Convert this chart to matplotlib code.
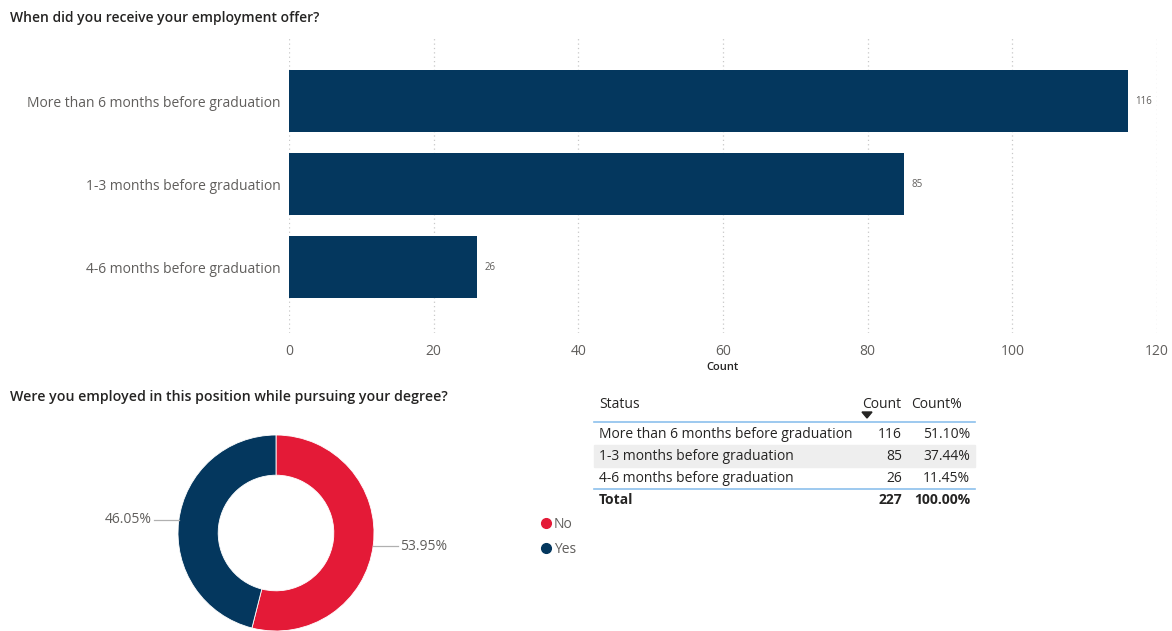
import numpy as np
import matplotlib.pyplot as plt
from matplotlib.lines import Line2D

# data
statuses = ["More than 6 months before graduation",
            "1-3 months before graduation",
            "4-6 months before graduation"]
counts = [116, 85, 26]
x_ticks = [0, 20, 40, 60, 80, 100, 120]

employed_labels = ["No", "Yes"]
employed_pct = [53.95, 46.05]

NAVY = "#04375e"
RED = "#e41a37"
GREY = "#605e5c"
DARK = "#252423"

W, H = 1172, 631
plt.rcParams['font.family'] = ['Open Sans', 'DejaVu Sans']

fig = plt.figure(figsize=(W / 100, H / 100), dpi=100)


def fx(px):
    return px / W


def fy(py):
    return 1 - py / H


# ---- bar chart ----
ax = fig.add_axes([fx(289), fy(333), fx(1157) - fx(289), fy(37) - fy(333)])
y = np.arange(len(statuses))
ax.barh(y, counts, height=0.75, color=NAVY)
ax.set_xlim(0, 120)
ax.set_ylim(2.79, -0.77)
ax.set_xticks(x_ticks)
ax.set_yticks(y)
ax.set_yticklabels(statuses)
ax.tick_params(axis='y', length=0, pad=6, labelsize=10, labelcolor=GREY)
ax.tick_params(axis='x', length=0, pad=8, labelsize=10, labelcolor=GREY)
ax.grid(axis='x', linestyle=(0, (1, 2.5)), color='#c8c8c8', linewidth=0.9)
ax.set_axisbelow(True)
for s in ax.spines.values():
    s.set_visible(False)
for yi, c in zip(y, counts):
    ax.text(c + 1.0, yi, str(c), va='center', ha='left', fontsize=7, color=GREY)
ax.set_xlabel("Count", fontsize=8, color=DARK, fontweight='semibold', labelpad=2)

fig.text(fx(10), fy(18), "When did you receive your employment offer?",
         fontsize=10, fontweight='semibold', color=DARK, va='center', ha='left')

# ---- donut ----
fig.text(fx(10), fy(397), "Were you employed in this position while pursuing your degree?",
         fontsize=10.2, fontweight='semibold', color=DARK, va='center', ha='left')

R = 98.0
side = 260
cx, cy = 276, 533
dax = fig.add_axes([fx(cx - side / 2), fy(cy + side / 2), side / W, side / H])
lim = side / 2 / R
wedges, _ = dax.pie(employed_pct, colors=[RED, NAVY], startangle=90, counterclock=False,
                    radius=1.0, wedgeprops=dict(width=0.41, edgecolor='white', linewidth=0.6))
dax.set_xlim(-lim, lim)
dax.set_ylim(-lim, lim)
dax.set_aspect('equal')
dax.axis('off')
for w, p in zip(wedges, employed_pct):
    ang = np.deg2rad((w.theta1 + w.theta2) / 2)
    x0, y0 = np.cos(ang), np.sin(ang)
    sgn = 1 if x0 > 0 else -1
    yl = y0 * 1.1
    x1 = sgn * 1.24
    dax.plot([x0, x1], [yl, yl], color='#b0b0b0', lw=0.9, clip_on=False)
    dax.text(x1 + sgn * 0.03, yl, f"{p:.2f}%", ha='left' if sgn > 0 else 'right',
             va='center', fontsize=10, color=GREY, clip_on=False)

handles = [Line2D([], [], marker='o', linestyle='none', markersize=7, color=c)
           for c in [RED, NAVY]]
fig.legend(handles, employed_labels, loc='upper left', bbox_to_anchor=(fx(533), fy(511)),
           frameon=False, fontsize=10, labelcolor=GREY, handletextpad=0.1,
           labelspacing=0.75, borderaxespad=0, handlelength=1.0)

# ---- table ----
tl, tr = 594, 975
c_status = 599
c_count, c_pct = 902, 970
h_count, h_pct = 901, 962
pcts = [c / sum(counts) * 100 for c in counts]
fig.text(fx(c_status), fy(404), "Status", fontsize=10, color=DARK, va='center')
fig.text(fx(h_count), fy(404), "Count", fontsize=10, color=DARK, va='center', ha='right')
fig.text(fx(h_pct), fy(404), "Count%", fontsize=10, color=DARK, va='center', ha='right')
fig.patches.append(plt.Polygon([[fx(862), fy(412)], [fx(872), fy(412)], [fx(867), fy(418)]],
                               closed=True, color=DARK, transform=fig.transFigure))
fig.add_artist(Line2D([fx(tl), fx(tr)], [fy(422), fy(422)], color='#8cc0ec', lw=1.2))
row_y = [434, 456, 478]
for i, (s, c, p, ry) in enumerate(zip(statuses, counts, pcts, row_y)):
    if i == 1:
        fig.patches.append(plt.Rectangle((fx(tl), fy(ry + 11)), fx(tr) - fx(tl), fy(ry - 11) - fy(ry + 11),
                                         color='#eeeeee', transform=fig.transFigure, zorder=0))
    fig.text(fx(c_status), fy(ry), s, fontsize=10, color=DARK, va='center')
    fig.text(fx(c_count), fy(ry), str(c), fontsize=10, color=DARK, va='center', ha='right')
    fig.text(fx(c_pct), fy(ry), f"{p:.2f}%", fontsize=10, color=DARK, va='center', ha='right')
fig.add_artist(Line2D([fx(tl), fx(tr)], [fy(489), fy(489)], color='#8cc0ec', lw=1.2))
fig.text(fx(c_status), fy(500), "Total", fontsize=10, color=DARK, va='center', fontweight='bold')
fig.text(fx(c_count), fy(500), str(sum(counts)), fontsize=10, color=DARK, va='center',
         ha='right', fontweight='bold')
fig.text(fx(c_pct), fy(500), f"{sum(pcts):.2f}%", fontsize=10, color=DARK, va='center',
         ha='right', fontweight='bold')

fig.savefig("out.png", dpi=100, facecolor='white')
